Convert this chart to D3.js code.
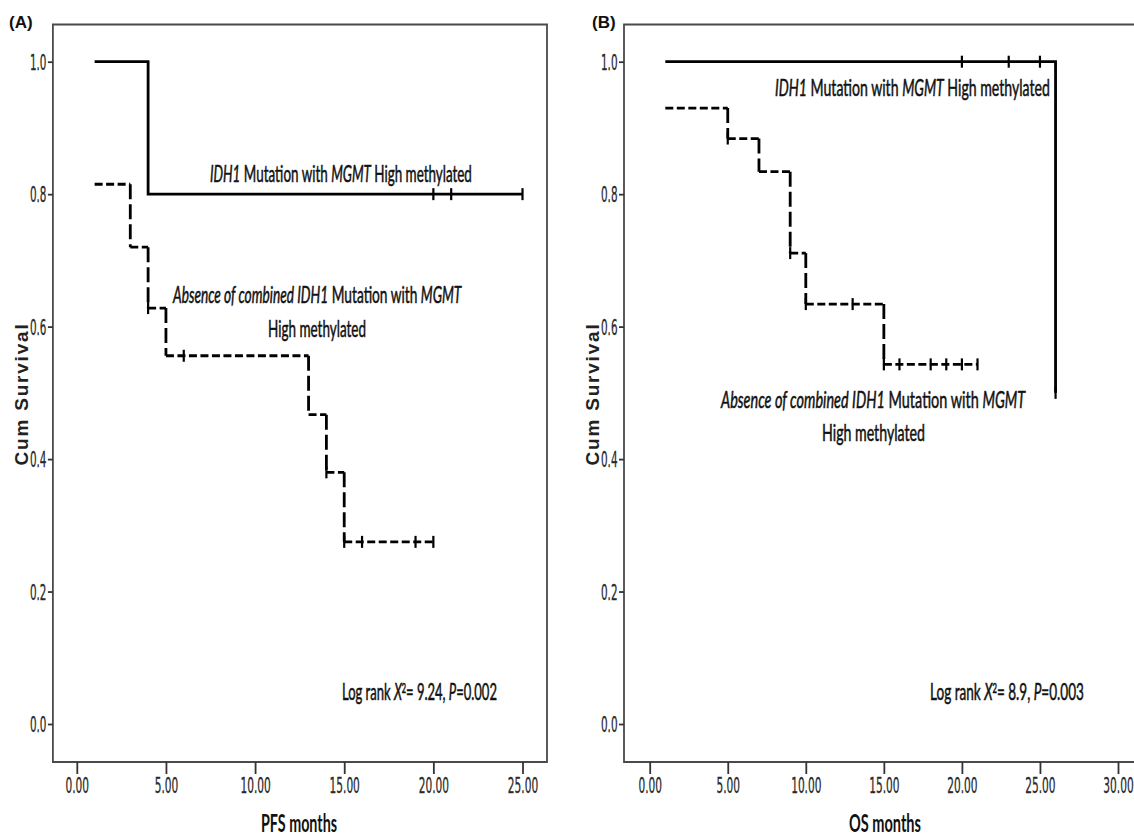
<!DOCTYPE html>
<html>
<head>
<meta charset="utf-8">
<script src="https://cdn.jsdelivr.net/npm/d3@7"></script>
<style>
  body { margin: 0; background: #fff; }
  svg { display: block; }
  .frame { fill: none; stroke: #4a4a4a; stroke-width: 1.8; }
  .axis path { display: none; }
  .axis line { stroke: #333; stroke-width: 1.8; }
  .axis text { font-family: "Liberation Sans Narrow", "DejaVu Sans Condensed", sans-serif; font-size: 21px; fill: #2a2a2a; stroke: #2a2a2a; stroke-width: 0.3; }
  .ann { font-family: Lato, "Open Sans", sans-serif; font-size: 23px; fill: #111; stroke: #111; stroke-width: 0.55; }
  .title { font-family: Lato, "Open Sans", sans-serif; font-size: 25px; font-weight: bold; fill: #111; }
  .ylab { font-family: "Liberation Sans", Arial, sans-serif; font-size: 19px; font-weight: bold; letter-spacing: 1.8px; fill: #222; }
  .plabel { font-family: "Liberation Sans", Arial, sans-serif; font-size: 17px; font-weight: bold; fill: #111; }
  .curve { fill: none; stroke: #000; stroke-width: 2.8; }
  .cens { stroke: #000; stroke-width: 2.2; }
</style>
</head>
<body>
<div id="chart"></div>
<script>
// tick values
var pfsTicks = [0, 5, 10, 15, 20, 25];
var osTicks = [0, 5, 10, 15, 20, 25, 30];
var survTicks = [0, 0.2, 0.4, 0.6, 0.8, 1.0];

// (A) PFS - IDH1 mutation with MGMT high methylated
var pfsMutTime = [1, 4];
var pfsMutSurv = [1.0, 0.8];
var pfsMutEnd = 25;
var pfsMutCens = [20, 21, 25];

// (A) PFS - absence of combined
var pfsAbsTime = [1, 3, 4, 5, 13, 14, 15];
var pfsAbsSurv = [0.815, 0.72, 0.628, 0.556, 0.467, 0.38, 0.275];
var pfsAbsEnd = 20;
var pfsAbsCens = [4, 6, 14, 15, 16, 19, 20];

// (B) OS - IDH1 mutation with MGMT high methylated
var osMutTime = [1, 26];
var osMutSurv = [1.0, 0.5];
var osMutEnd = 26;
var osMutCens = [20, 23, 25, 26];

// (B) OS - absence of combined
var osAbsTime = [1, 5, 7, 9, 10, 15];
var osAbsSurv = [0.93, 0.884, 0.834, 0.711, 0.634, 0.543];
var osAbsEnd = 21;
var osAbsCens = [5, 9, 10, 13, 15, 16, 18, 19, 20, 21];

var width = 1134, height = 837;

var svg = d3.select("#chart").append("svg")
  .attr("width", width)
  .attr("height", height);

var y = d3.scaleLinear().domain([0, 1]).range([724, 61.7]);

function survAt(times, survs, t) {
  var s = survs[0];
  for (var i = 0; i < times.length; i++) {
    if (times[i] <= t) s = survs[i];
  }
  return s;
}

// squeeze a text element horizontally to the width seen in the picture
function fit(text, x0, y0, w) {
  var bw = text.node().getBBox().width;
  text.attr("transform", "translate(" + x0 + "," + y0 + ") scale(" + (w / bw) + ",1)");
}

function annotate(g, parts, x0, y0, w, anchor, cls) {
  var t = g.append("text").attr("class", cls || "ann").attr("text-anchor", anchor || "start");
  parts.forEach(function(p) {
    var ts = t.append("tspan").text(p[0]);
    if (p[1] == "i") ts.attr("font-style", "italic");
    if (p[1] == "sup") ts.attr("baseline-shift", "super").attr("font-size", "13px");
  });
  fit(t, x0, y0, w);
}

function drawCurve(g, x, times, survs, end, cens, dashed) {
  var segs = [];
  for (var i = 0; i < times.length; i++) {
    var t1 = i < times.length - 1 ? times[i + 1] : end;
    if (t1 > times[i]) segs.push({x1: times[i], y1: survs[i], x2: t1, y2: survs[i], h: true});
    if (i < times.length - 1) segs.push({x1: times[i + 1], y1: survs[i], x2: times[i + 1], y2: survs[i + 1], h: false});
  }
  if (dashed) {
    g.selectAll(null).data(segs).enter().append("line")
      .attr("class", "curve")
      .attr("x1", function(d) { return x(d.x1); })
      .attr("x2", function(d) { return x(d.x2); })
      .attr("y1", function(d) { return y(d.y1); })
      .attr("y2", function(d) { return y(d.y2); })
      .attr("stroke-dasharray", function(d) { return d.h ? "8,3.5" : "15,5"; });
  } else {
    var pts = [];
    segs.forEach(function(d, i) {
      if (i == 0) pts.push([x(d.x1), y(d.y1)]);
      pts.push([x(d.x2), y(d.y2)]);
    });
    g.append("path").attr("class", "curve").attr("d", d3.line()(pts));
  }
  g.selectAll(null).data(cens).enter().append("line")
    .attr("class", "cens")
    .attr("x1", function(d) { return x(d); })
    .attr("x2", function(d) { return x(d); })
    .attr("y1", function(d) { return y(survAt(times, survs, d)) - 6; })
    .attr("y2", function(d) { return y(survAt(times, survs, d)) + 6; });
}

function drawPanel(p) {
  var g = svg.append("g");
  var x = d3.scaleLinear().domain([0, p.xMax]).range(p.xRange);

  g.append("path").attr("class", "frame")
    .attr("d", "M" + p.left + "," + p.top + "H" + p.right + "V" + p.bottom + "H" + p.left + "Z");

  var xa = g.append("g").attr("class", "axis")
    .attr("transform", "translate(0," + p.bottom + ")")
    .call(d3.axisBottom(x).tickValues(p.ticks).tickSize(12).tickPadding(4).tickFormat(d3.format(".2f")));
  xa.selectAll("text").attr("transform", "scale(0.56,1)");

  var ya = g.append("g").attr("class", "axis")
    .attr("transform", "translate(" + p.left + ",0)")
    .call(d3.axisLeft(y).tickValues(survTicks).tickSize(5).tickFormat(d3.format(".1f")));
  ya.selectAll("text").attr("x", 0).attr("dy", "0.36em").attr("transform", "translate(-6.5,0) scale(0.55,1)");

  g.append("text").attr("class", "ylab")
    .attr("text-anchor", "middle")
    .attr("dy", "0.36em")
    .attr("transform", "translate(" + p.ylabX + ",394) rotate(-90)")
    .text("Cum Survival");

  g.append("text").attr("class", "plabel").attr("x", p.plabelX).attr("y", 28).text(p.plabel);

  annotate(g, [[p.xTitle, ""]], p.xTitleX, 832, p.xTitleW, "middle", "title");

  drawCurve(g, x, p.abs[0], p.abs[1], p.abs[2], p.abs[3], true);
  drawCurve(g, x, p.mut[0], p.mut[1], p.mut[2], p.mut[3], false);

  var a = p.ann;
  annotate(g, [["IDH1", "i"], [" Mutation with ", ""], ["MGMT", "i"], [" High methylated", ""]], a[0][0], a[0][1], a[0][2]);
  annotate(g, [["Absence of combined IDH1", "i"], [" Mutation with ", ""], ["MGMT", "i"]], a[1][0], a[1][1], a[1][2]);
  annotate(g, [["High methylated", ""]], a[2][0], a[2][1], a[2][2], "middle");
  annotate(g, [["Log rank ", ""], ["X", "i"], ["2", "sup"], ["= " + p.chi + ", ", ""], ["P", "i"], ["=" + p.pval, ""]], a[3][0], a[3][1], a[3][2]);
}

drawPanel({
  xMax: 25, xRange: [76.8, 522.5], ticks: pfsTicks,
  left: 52.9, right: 547, top: 24.5, bottom: 762,
  ylabX: 21, plabel: "(A)", plabelX: 9,
  xTitle: "PFS months", xTitleX: 299, xTitleW: 76,
  mut: [pfsMutTime, pfsMutSurv, pfsMutEnd, pfsMutCens],
  abs: [pfsAbsTime, pfsAbsSurv, pfsAbsEnd, pfsAbsCens],
  chi: "9.24", pval: "0.002",
  ann: [[210, 182, 262], [173, 303, 290], [317, 337, 98], [342, 700, 155]]
});

drawPanel({
  xMax: 30, xRange: [649.7, 1118], ticks: osTicks,
  left: 624, right: 1160, top: 24.5, bottom: 762,
  ylabX: 592, plabel: "(B)", plabelX: 592,
  xTitle: "OS months", xTitleX: 885, xTitleW: 72,
  mut: [osMutTime, osMutSurv, osMutEnd, osMutCens],
  abs: [osAbsTime, osAbsSurv, osAbsEnd, osAbsCens],
  chi: "8.9", pval: "0.003",
  ann: [[775, 96, 275], [721, 408, 306], [873.5, 441, 103], [930, 700, 154]]
});
</script>
</body>
</html>
